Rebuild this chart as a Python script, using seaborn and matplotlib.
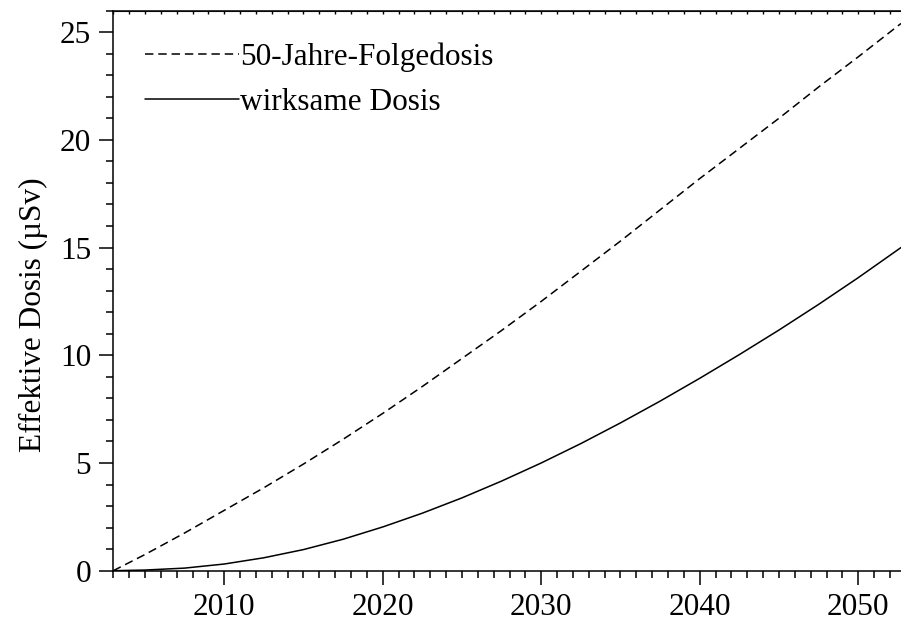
import matplotlib
matplotlib.use("Agg")
import matplotlib.pyplot as plt
from matplotlib.ticker import MultipleLocator
import seaborn as sns
import pandas as pd

# Jahre und effektive Dosis (µSv)
years = [2003, 2005, 2007.5, 2010, 2012.5, 2015, 2017.5, 2020, 2022.5, 2025, 2027.5,
         2030, 2032.5, 2035, 2037.5, 2040, 2042.5, 2045, 2047.5, 2050, 2052.7]
folgedosis = [0.0, 0.75, 1.75, 2.8, 3.85, 4.95, 6.1, 7.3, 8.55, 9.85, 11.15,
              12.5, 13.9, 15.3, 16.75, 18.2, 19.6, 21.0, 22.45, 23.85, 25.4]
wirksame = [0.0, 0.03, 0.12, 0.31, 0.60, 0.98, 1.46, 2.03, 2.67, 3.38, 4.16,
            5.0, 5.9, 6.86, 7.87, 8.93, 10.03, 11.17, 12.36, 13.6, 15.0]
labels = ["50-Jahre-Folgedosis", "wirksame Dosis"]

df = pd.concat([
    pd.DataFrame({"Jahr": years, "Dosis": folgedosis, "Art": labels[0]}),
    pd.DataFrame({"Jahr": years, "Dosis": wirksame, "Art": labels[1]}),
])

sns.set_style("ticks")
plt.rcParams["font.family"] = ["Liberation Serif", "DejaVu Serif"]
plt.rcParams["text.color"] = "black"
plt.rcParams["axes.labelcolor"] = "black"
fs = 22.5

fig = plt.figure(figsize=(9.01, 6.21), dpi=100)
ax = fig.add_axes([0.1257, 0.081, 0.8743, 0.902])

sns.lineplot(data=df, x="Jahr", y="Dosis", style="Art", style_order=labels,
             dashes={labels[0]: (5.5, 3.2), labels[1]: ""}, color="black",
             linewidth=1.1, ax=ax)

ax.set_xlim(2003, 2052.7)
ax.set_ylim(0, 26)
ax.xaxis.set_major_locator(MultipleLocator(10))
ax.xaxis.set_minor_locator(MultipleLocator(1))
ax.yaxis.set_major_locator(MultipleLocator(5))
ax.yaxis.set_minor_locator(MultipleLocator(1))
ax.tick_params(axis="both", which="major", direction="out", length=10, width=1.1,
               labelsize=fs, colors="black", pad=6)
ax.tick_params(axis="both", which="minor", direction="out", length=5, width=1.1,
               colors="black")
ax.spines["right"].set_visible(False)
for s in ("left", "bottom", "top"):
    ax.spines[s].set_linewidth(1.1)
    ax.spines[s].set_color("black")

# kurze Striche nach innen an der oberen Achse
sec = ax.secondary_xaxis("top")
sec.xaxis.set_major_locator(MultipleLocator(1))
sec.tick_params(direction="in", length=2.5, width=1.0, labeltop=False, colors="black")

ax.set_xlabel("")
ax.set_ylabel("Effektive Dosis (µSv)", fontsize=fs, color="black")
ax.yaxis.set_label_coords(-0.083, 0.457)

leg = ax.legend(title=None, frameon=False, loc="upper left", fontsize=fs,
                handlelength=3.0, handletextpad=0.06, labelspacing=0.52,
                bbox_to_anchor=(0.040, 0.943), borderaxespad=0, borderpad=0)
for t in leg.get_texts():
    t.set_color("black")

fig.savefig("out.png", dpi=100)
